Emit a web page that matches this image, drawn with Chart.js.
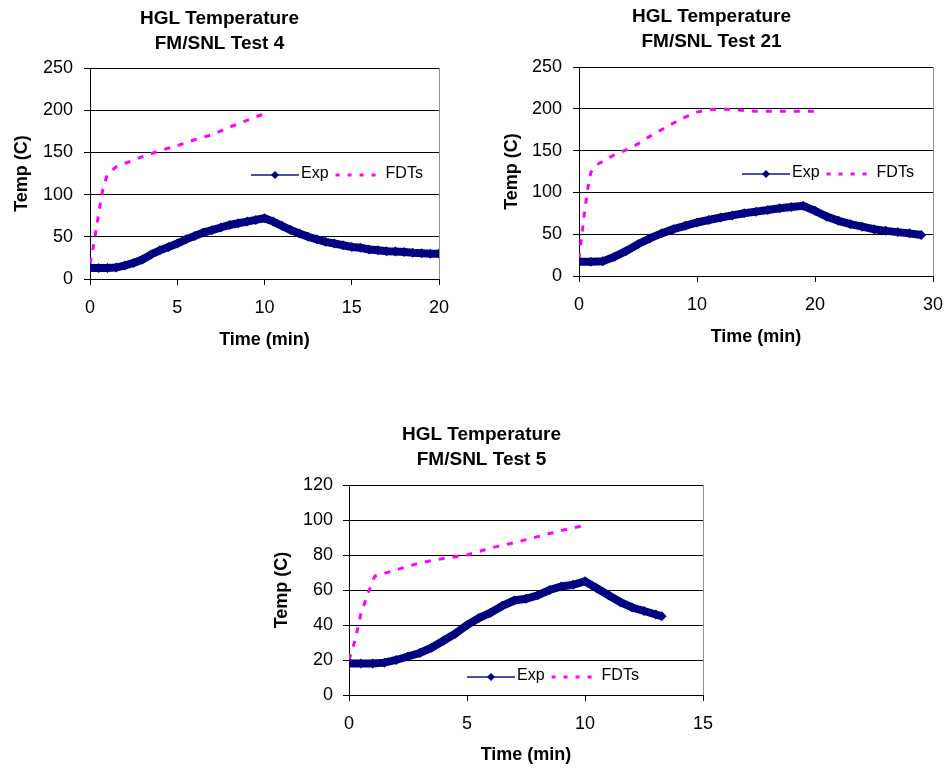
<!DOCTYPE html>
<html>
<head>
<meta charset="utf-8">
<script src="https://cdn.jsdelivr.net/npm/chart.js@4.4.0/dist/chart.umd.min.js"></script>
<style>
body { margin: 0; background: #fff; width: 946px; height: 768px; position: relative; overflow: hidden; }
canvas { position: absolute; }
</style>
</head>
<body>
<canvas id="c4" width="456" height="360" style="left:0px;top:0px"></canvas>
<canvas id="c21" width="456" height="360" style="left:490px;top:0px"></canvas>
<canvas id="c5" width="456" height="352" style="left:260px;top:416px"></canvas>
<script>
// Test 4
const exp4Time = [0,0.5,1,1.5,2,2.5,3,3.5,4,4.5,5,5.5,6,6.5,7,7.5,8,8.5,9,9.5,10,10.5,11,11.5,12,12.5,13,13.5,14,14.5,15,15.5,16,16.5,17,17.5,18,18.5,19,19.5,20];
const exp4Temp = [13,13,13,13.5,16,19,23,29,34,38,42,47,51,55,58,61,64,66,68,70,72,68,63,58,54,50,47,44,42,40,38,37,35,34,33,32.5,32,31,30.5,30,30];
const fdt4Time = [0,0.25,0.5,0.75,1,1.5,2,3,4,5,6,7,8,9,10];
const fdt4Temp = [18,45,78,108,124,133,137,145,152,158,165,171,180,188,196];

// Test 21
const exp21Time = [0,1,2,3,4,5,6,7,8,9,10,11,12,13,14,15,16,17,18,19,20,21,22,23,24,25,26,27,28,29];
const exp21Temp = [17,17,17.5,23,30,38,45,51,56,60,64,67,70,72.5,75,77,79,81,82.5,84,78,71,66,62,59,56,54,52.5,51,49];
const fdt21Time = [0,0.25,0.5,0.75,1,1.5,2,3,4,5,6,7,8,9,10,11,12,13,14,15,16,17,18,19,20];
const fdt21Temp = [20,50,80,105,124,133,137,145,151,158,167,175,183,190,196,199,200,199,198,197,197,197,197,197,197];

// Test 5
const exp5Time = [0,0.5,1,1.5,2,2.5,3,3.5,4,4.5,5,5.5,6,6.5,7,7.5,8,8.5,9,9.5,10,10.5,11,11.5,12,12.5,13,13.25];
const exp5Temp = [18,18,18,18.5,20,22,24,27,31,35,40,44,47,51,54,55,57,60,62,63,65,61,57,53,50,48,46,45];
const fdt5Time = [0,0.25,0.5,0.75,1,1.1,1.5,2,3,4,5,6,7,8,9,10];
const fdt5Temp = [20,31,46,56,65,68,69.5,71.5,75.5,78,80,84,87,90.5,94,97];

const FONT = "'Liberation Sans', Arial, sans-serif";
Chart.defaults.font.family = FONT;
Chart.defaults.color = '#000';

const NAVY = '#000080';
const MAGENTA = '#ff00ff';

function pts(xs, ys) {
    return xs.map((x, i) => ({ x: x, y: ys[i] }));
}

// grey right edge of the plot area
const framePlugin = {
    id: 'frame',
    beforeDatasetsDraw(chart) {
        const ctx = chart.ctx, a = chart.chartArea;
        ctx.save();
        ctx.strokeStyle = '#909090';
        ctx.lineWidth = 1;
        ctx.beginPath();
        ctx.moveTo(Math.round(a.right) + 0.5, a.top);
        ctx.lineTo(Math.round(a.right) + 0.5, a.bottom);
        ctx.stroke();
        ctx.restore();
    }
};

// legend drawn inside the plot, like the excel one
const legendPlugin = {
    id: 'inlineLegend',
    afterDraw(chart, args, opts) {
        const ctx = chart.ctx;
        const ds = chart.data.datasets;
        let x = opts.x;
        const y = opts.y;
        ctx.save();
        ctx.font = '16px ' + FONT;
        ctx.textBaseline = 'middle';

        ctx.strokeStyle = '#5050a8';
        ctx.lineWidth = 2;
        ctx.beginPath();
        ctx.moveTo(x, y + 1);
        ctx.lineTo(x + 48, y + 1);
        ctx.stroke();
        ctx.fillStyle = NAVY;
        ctx.beginPath();
        ctx.moveTo(x + 24, y + 1 - 4);
        ctx.lineTo(x + 28, y + 1);
        ctx.lineTo(x + 24, y + 1 + 4);
        ctx.lineTo(x + 20, y + 1);
        ctx.closePath();
        ctx.fill();
        ctx.fillStyle = '#000';
        ctx.fillText(ds[0].label, x + 50, y);
        x = x + 50 + ctx.measureText(ds[0].label).width + 7;

        ctx.strokeStyle = MAGENTA;
        ctx.lineWidth = 3;
        ctx.setLineDash([4, 8]);
        ctx.beginPath();
        ctx.moveTo(x, y + 1);
        ctx.lineTo(x + 48, y + 1);
        ctx.stroke();
        ctx.setLineDash([]);
        ctx.fillText(ds[1].label, x + 50, y);
        ctx.restore();
    }
};

function makeChart(id, p) {
    const lh = 24.5;
    const padTop = p.titleY - lh / 2 + 2;
    return new Chart(document.getElementById(id), {
        type: 'scatter',
        data: {
            datasets: [{
                label: 'Exp',
                data: pts(p.expTime, p.expTemp),
                showLine: true,
                borderColor: NAVY,
                backgroundColor: NAVY,
                borderWidth: 8,
                pointStyle: 'rectRot',
                pointRadius: 5,
                pointBorderWidth: 0,
                pointHoverRadius: 5
            }, {
                label: 'FDTs',
                data: pts(p.fdtTime, p.fdtTemp),
                showLine: true,
                borderColor: MAGENTA,
                backgroundColor: MAGENTA,
                borderWidth: 3,
                borderDash: [6, 8],
                pointRadius: 0,
                pointHoverRadius: 0
            }]
        },
        options: {
            responsive: false,
            animation: false,
            devicePixelRatio: 1,
            layout: { padding: { left: 0, top: 0, bottom: 0, right: p.w - p.plotR } },
            plugins: {
                legend: { display: false },
                tooltip: { enabled: false },
                title: {
                    display: true,
                    text: p.title,
                    color: '#000',
                    font: { size: 19, weight: 'bold', lineHeight: lh / 19 },
                    padding: { top: padTop, bottom: p.plotT - padTop - 2 * lh }
                },
                inlineLegend: { x: p.legX, y: p.legY }
            },
            scales: {
                x: {
                    type: 'linear',
                    min: 0,
                    max: p.xMax,
                    ticks: { stepSize: p.xStep, padding: p.xPad, maxRotation: 0, font: { size: 18 }, color: '#000' },
                    grid: { drawOnChartArea: false, tickLength: 6, color: '#000' },
                    border: { color: '#000', width: 1 },
                    title: { display: true, text: 'Time (min)', color: '#000', font: { size: 18, weight: 'bold' }, padding: { top: 0, bottom: p.xTitlePad } },
                    afterFit: s => {
                        s.height = p.h - p.plotB;
                        s.paddingLeft = 0;
                        s.paddingRight = 0;
                    }
                },
                y: {
                    min: 0,
                    max: p.yMax,
                    ticks: { stepSize: p.yStep, padding: p.yPad, font: { size: 18 }, color: '#000' },
                    grid: { tickLength: 6, color: '#000' },
                    border: { color: '#000', width: 1 },
                    title: { display: true, text: 'Temp (C)', color: '#000', font: { size: 18, weight: 'bold' }, padding: { top: 11, bottom: 0 } },
                    afterFit: s => {
                        s.width = p.plotL;
                        s.paddingTop = 0;
                        s.paddingBottom = 0;
                    }
                }
            }
        },
        plugins: [framePlugin, legendPlugin]
    });
}

makeChart('c4', {
    title: ['HGL Temperature', 'FM/SNL Test 4'],
    expTime: exp4Time, expTemp: exp4Temp, fdtTime: fdt4Time, fdtTemp: fdt4Temp,
    w: 456, h: 360, plotL: 90, plotR: 439, plotT: 68, plotB: 279, titleY: 17,
    xMax: 20, xStep: 5, yMax: 250, yStep: 50, xPad: 12, yPad: 11, xTitlePad: 9,
    legX: 251, legY: 174
});

makeChart('c21', {
    title: ['HGL Temperature', 'FM/SNL Test 21'],
    expTime: exp21Time, expTemp: exp21Temp, fdtTime: fdt21Time, fdtTemp: fdt21Temp,
    w: 456, h: 360, plotL: 89, plotR: 443, plotT: 67, plotB: 276, titleY: 15,
    xMax: 30, xStep: 10, yMax: 250, yStep: 50, xPad: 12, yPad: 11, xTitlePad: 12,
    legX: 252, legY: 173
});

makeChart('c5', {
    title: ['HGL Temperature', 'FM/SNL Test 5'],
    expTime: exp5Time, expTemp: exp5Temp, fdtTime: fdt5Time, fdtTemp: fdt5Temp,
    w: 456, h: 352, plotL: 89, plotR: 443, plotT: 69, plotB: 279, titleY: 17,
    xMax: 15, xStep: 5, yMax: 120, yStep: 20, xPad: 12, yPad: 10, xTitlePad: 2,
    legX: 207, legY: 260
});
</script>
</body>
</html>
